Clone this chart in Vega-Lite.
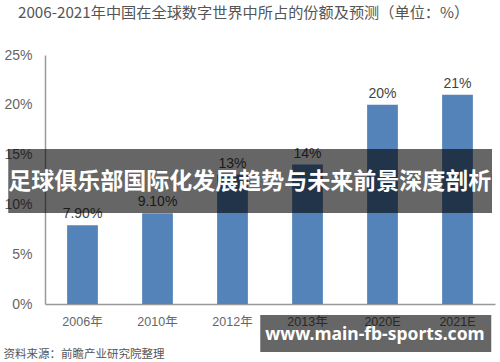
{
  "$schema": "https://vega.github.io/schema/vega-lite/v6.json",
  "width": 450,
  "height": 249,
  "autosize": {"type": "none"},
  "padding": {"left": 45, "top": 55, "right": 5, "bottom": 58},
  "background": "white",
  "title": {
    "text": "2006-2021年中国在全球数字世界中所占的份额及预测（单位：%）",
    "anchor": "start",
    "frame": "group",
    "dx": -27,
    "offset": 27,
    "fontSize": 15.2,
    "font": "Noto Sans CJK SC",
    "fontWeight": "normal",
    "color": "#555555"
  },
  "config": {"view": {"stroke": null}},
  "layer": [
    {
      "data": {
        "values": [
          {"year": "2006年", "share": 7.9, "label": "7.90%"},
          {"year": "2010年", "share": 9.1, "label": "9.10%"},
          {"year": "2012年", "share": 13, "label": "13%"},
          {"year": "2013年", "share": 14, "label": "14%"},
          {"year": "2020E", "share": 20, "label": "20%"},
          {"year": "2021E", "share": 21, "label": "21%"}
        ]
      },
      "encoding": {
        "x": {
          "field": "year",
          "type": "nominal",
          "sort": null,
          "scale": {"paddingInner": 0.59, "paddingOuter": 0.295},
          "axis": {
            "labelAngle": 0,
            "labelFont": "Liberation Sans, Noto Sans CJK SC, sans-serif",
            "labelFontSize": 12.5,
            "labelColor": "#666666",
            "labelPadding": 11,
            "ticks": false,
            "tickSize": 0,
            "domainColor": "#999999",
            "domainWidth": 1.5,
            "title": "资料来源：前瞻产业研究院整理",
            "titleX": -42,
            "titleY": 50,
            "titleAlign": "left",
            "titleBaseline": "middle",
            "titleFont": "Noto Sans CJK SC",
            "titleFontSize": 11.5,
            "titleFontWeight": "normal",
            "titleColor": "#555555"
          }
        },
        "y": {
          "field": "share",
          "type": "quantitative",
          "scale": {"domain": [0, 25], "nice": false},
          "axis": {
            "values": [0, 5, 10, 15, 20, 25],
            "labelExpr": "datum.value + '%'",
            "labelFont": "Liberation Sans, sans-serif",
            "labelFontSize": 14,
            "labelColor": "#666666",
            "labelPadding": 13,
            "ticks": false,
            "tickSize": 0,
            "grid": false,
            "domainColor": "#999999",
            "domainWidth": 1.5,
            "title": null
          }
        }
      },
      "layer": [
        {"mark": {"type": "bar", "color": "#5383B8"}},
        {
          "mark": {
            "type": "text",
            "baseline": "alphabetic",
            "dy": -7,
            "font": "Liberation Sans, sans-serif",
            "fontSize": 14,
            "color": "#444444"
          },
          "encoding": {"text": {"field": "label"}}
        }
      ]
    },
    {
      "data": {"values": [{}]},
      "layer": [
        {
          "mark": {"type": "rect", "color": "black", "opacity": 0.6},
          "encoding": {
            "x": {"datum": -0.49, "type": "quantitative", "scale": {"domain": [0, 6], "nice": false, "zero": false}, "axis": null},
            "x2": {"datum": 5.96},
            "y": {"datum": 9.14, "type": "quantitative"},
            "y2": {"datum": 15.56}
          }
        },
        {
          "mark": {
            "type": "text",
            "text": "足球俱乐部国际化发展趋势与未来前景深度剖析",
            "font": "Noto Sans CJK SC",
            "fontWeight": "bold",
            "fontSize": 23,
            "color": "white",
            "baseline": "middle",
            "align": "center"
          },
          "encoding": {
            "x": {"datum": 2.73, "type": "quantitative"},
            "y": {"datum": 12.2, "type": "quantitative"}
          }
        },
        {
          "mark": {"type": "rect", "color": "black", "opacity": 0.6},
          "encoding": {
            "x": {"datum": 2.87, "type": "quantitative"},
            "x2": {"datum": 5.95},
            "y": {"datum": -1.1, "type": "quantitative"},
            "y2": {"datum": -4.82}
          }
        },
        {
          "mark": {
            "type": "text",
            "text": "www.main-fb-sports.com",
            "font": "Noto Sans",
            "fontWeight": "bold",
            "fontSize": 17.5,
            "color": "white",
            "baseline": "middle",
            "align": "center"
          },
          "encoding": {
            "x": {"datum": 4.4, "type": "quantitative"},
            "y": {"datum": -3.1, "type": "quantitative"}
          }
        }
      ]
    }
  ],
  "resolve": {"scale": {"x": "independent"}}
}
